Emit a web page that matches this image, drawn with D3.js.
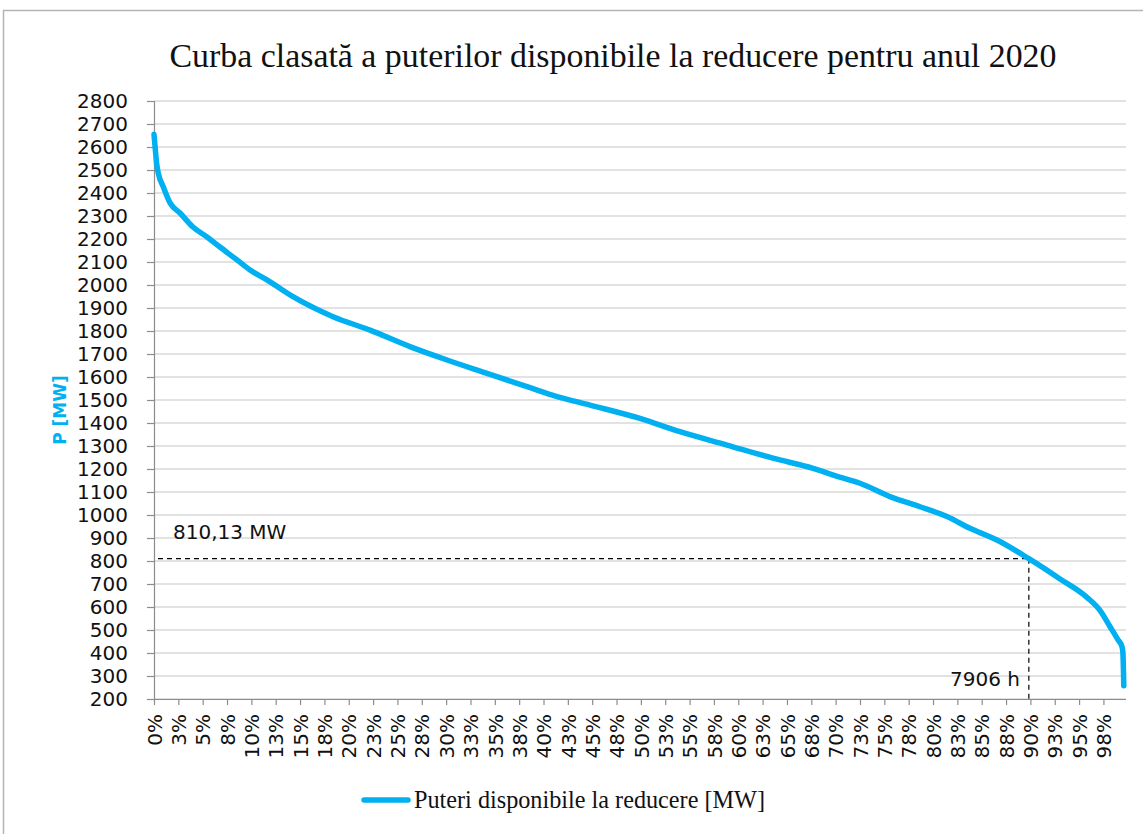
<!DOCTYPE html>
<html>
<head>
<meta charset="utf-8">
<script src="https://cdn.jsdelivr.net/npm/d3@7"></script>
<style>
  body { margin: 0; background: #fff; }
  svg { display: block; }
</style>
</head>
<body>
<script>
// hours of the year (2020 has 8784 h) and available power
var totalHours = 8784;
var hours = [0, 10, 24, 39, 84, 145, 235, 352, 479, 596, 750, 868, 1021, 1256, 1618, 1952,
             2313, 2648, 3009, 3371, 3651, 3940, 4392, 4753, 5178, 5594, 5955, 6181, 6380,
             6651, 6922, 7166, 7374, 7618, 7906, 8188, 8431, 8549, 8640, 8712, 8748, 8756, 8764];
var power = [2655, 2600, 2528, 2486, 2427, 2357, 2313, 2252, 2209, 2165, 2109, 2065, 2022, 1949, 1862, 1804,
             1732, 1674, 1616, 1558, 1514, 1478, 1420, 1362, 1304, 1247, 1203, 1167, 1138,
             1080, 1036, 993, 942, 891, 810, 722, 642, 585, 514, 457, 427, 400, 258];

var yTicks = d3.range(200, 2801, 100);
var xTickStep = 220; // one label every 220 hours
var xTicks = d3.range(0, 40).map(function (k) { return k * xTickStep; });

var refHours = 7906, refPower = 810.13;

// plot box (window.top is reserved, so use other names)
var w = 1143, h = 834;
var plotLeft = 154, plotRight = 1126, plotTop = 101, plotBottom = 699;
var blue = "#00B0F0";

var svg = d3.select("body").append("svg")
            .attr("width", w)
            .attr("height", h);

// chart frame (only top and left edges are inside the picture)
svg.append("rect")
   .attr("x", 3.5).attr("y", 10.5)
   .attr("width", 1160).attr("height", 900)
   .attr("fill", "none")
   .attr("stroke", "#b4b4b4")
   .attr("stroke-width", 1.5);

var x = d3.scaleLinear().domain([0, totalHours]).range([plotLeft, plotRight]);
var y = d3.scaleLinear().domain([200, 2800]).range([plotBottom, plotTop]);

// title
svg.append("text")
   .attr("x", 613).attr("y", 67)
   .attr("text-anchor", "middle")
   .attr("font-family", "'Liberation Serif', 'Times New Roman', serif")
   .attr("font-size", 33)
   .attr("textLength", 887)
   .attr("lengthAdjust", "spacingAndGlyphs")
   .attr("fill", "#111")
   .text("Curba clasată a puterilor disponibile la reducere pentru anul 2020");

// gridlines
svg.append("g")
   .selectAll("line")
   .data(yTicks)
   .enter()
   .append("line")
   .attr("x1", plotLeft).attr("x2", plotRight)
   .attr("y1", function (d) { return y(d); })
   .attr("y2", function (d) { return y(d); })
   .attr("stroke", "#d9d9d9")
   .attr("stroke-width", 1.5);

// y axis
var yAxis = svg.append("g")
   .attr("transform", "translate(" + plotLeft + ",0)")
   .call(d3.axisLeft(y).tickValues(yTicks).tickSize(7).tickPadding(19)
           .tickFormat(d3.format("d")));
yAxis.select(".domain").attr("stroke", "#8c8c8c").attr("stroke-width", 1.2);
yAxis.selectAll(".tick line").attr("stroke", "#8c8c8c").attr("stroke-width", 1.2);
yAxis.selectAll("text")
   .attr("font-family", "'DejaVu Sans', sans-serif")
   .attr("font-size", 20)
   .attr("fill", "#111");

// x axis
var xAxis = svg.append("g")
   .attr("transform", "translate(0," + plotBottom + ")")
   .call(d3.axisBottom(x).tickValues(xTicks).tickSize(6)
           .tickFormat(function (d) { return d3.format(".0%")(d / totalHours); }));
xAxis.select(".domain").attr("stroke", "#8c8c8c").attr("stroke-width", 1.2)
     .attr("d", "M" + (plotLeft - 6) + ",0.5H" + plotRight);
xAxis.selectAll(".tick line").attr("stroke", "#8c8c8c").attr("stroke-width", 1.2);
xAxis.selectAll("text")
   .attr("font-family", "'DejaVu Sans', sans-serif")
   .attr("font-size", 20)
   .attr("fill", "#111")
   .attr("text-anchor", "end")
   .attr("transform", "rotate(-90)")
   .attr("x", -15)
   .attr("y", 0)
   .attr("dy", "0.36em");

// axis title
svg.append("text")
   .attr("transform", "translate(66,410) rotate(-90)")
   .attr("text-anchor", "middle")
   .attr("font-family", "'DejaVu Sans', sans-serif")
   .attr("font-weight", "bold")
   .attr("font-size", 17)
   .attr("fill", blue)
   .text("P [MW]");

// reference dashed lines
svg.append("line")
   .attr("x1", plotLeft + 4).attr("x2", x(refHours))
   .attr("y1", y(refPower)).attr("y2", y(refPower))
   .attr("stroke", "#000").attr("stroke-width", 1.2)
   .attr("stroke-dasharray", "5,4");
svg.append("line")
   .attr("x1", x(refHours)).attr("x2", x(refHours))
   .attr("y1", y(refPower)).attr("y2", plotBottom)
   .attr("stroke", "#000").attr("stroke-width", 1.2)
   .attr("stroke-dasharray", "5,4");

svg.append("text")
   .attr("x", 173).attr("y", 539)
   .attr("font-family", "'DejaVu Sans', sans-serif")
   .attr("font-size", 20)
   .attr("fill", "#111")
   .text("810,13 MW");
svg.append("text")
   .attr("x", 1020).attr("y", 686)
   .attr("text-anchor", "end")
   .attr("font-family", "'DejaVu Sans', sans-serif")
   .attr("font-size", 20)
   .attr("fill", "#111")
   .text("7906 h");

// duration curve
var line = d3.line()
   .x(function (d) { return x(d[0]); })
   .y(function (d) { return y(d[1]); })
   .curve(d3.curveMonotoneX);

svg.append("path")
   .datum(d3.zip(hours, power))
   .attr("d", line)
   .attr("fill", "none")
   .attr("stroke", blue)
   .attr("stroke-width", 5.5)
   .attr("stroke-linejoin", "round")
   .attr("stroke-linecap", "round");

// legend
svg.append("line")
   .attr("x1", 364).attr("x2", 408)
   .attr("y1", 800).attr("y2", 800)
   .attr("stroke", blue)
   .attr("stroke-width", 5.5)
   .attr("stroke-linecap", "round");
svg.append("text")
   .attr("x", 414).attr("y", 808)
   .attr("font-family", "'Liberation Serif', 'Times New Roman', serif")
   .attr("font-size", 25)
   .attr("textLength", 351)
   .attr("lengthAdjust", "spacingAndGlyphs")
   .attr("fill", "#111")
   .text("Puteri disponibile la reducere [MW]");
</script>
</body>
</html>
